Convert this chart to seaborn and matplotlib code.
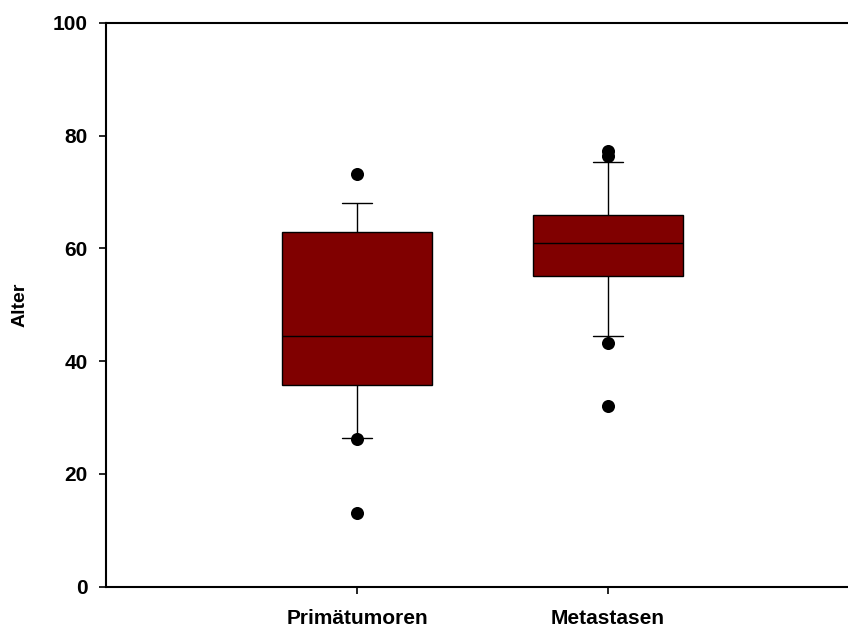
import matplotlib
matplotlib.use("Agg")
import matplotlib.pyplot as plt
import pandas as pd
import seaborn as sns

# Box summary per group (years of age)
groups = ["Primätumoren", "Metastasen"]
whisker_low = [26.3, 44.5]
q1 = [35.8, 55.1]
median = [44.5, 61.0]
q3 = [62.9, 66.0]
whisker_high = [68.1, 75.3]

# Points beyond the whiskers
outlier_groups = ["Primätumoren", "Primätumoren", "Primätumoren",
                  "Metastasen", "Metastasen", "Metastasen", "Metastasen"]
outlier_values = [73.2, 26.2, 13.1, 77.3, 76.4, 43.2, 32.1]

yticks = [0, 20, 40, 60, 80, 100]

sns.set_style("ticks")
plt.rcParams["font.family"] = ["Liberation Sans", "DejaVu Sans"]
plt.rcParams["font.weight"] = "bold"

# Long-form table: five summary values per group give the exact box
rows = []
for i, g in enumerate(groups):
    for v in (whisker_low[i], q1[i], median[i], q3[i], whisker_high[i]):
        rows.append({"Gruppe": g, "Alter": v})
box_df = pd.DataFrame(rows)
out_df = pd.DataFrame({"Gruppe": outlier_groups, "Alter": outlier_values})

fig = plt.figure(figsize=(8.48, 6.30), dpi=100)
ax = fig.add_axes([0.125, 0.0687, 0.888, 0.8948])

line = dict(color="black", linewidth=1.0)
sns.boxplot(data=box_df, x="Gruppe", y="Alter", order=groups, ax=ax,
            whis=(0, 100), showfliers=False, width=0.6,
            color="#800000", saturation=1,
            boxprops=dict(facecolor="#800000", edgecolor="black", linewidth=1.0),
            medianprops=line, whiskerprops=line, capprops=line,
            capwidths=0.12)
sns.stripplot(data=out_df, x="Gruppe", y="Alter", order=groups, ax=ax,
              jitter=False, color="black", size=9.4, linewidth=0, zorder=5)

ax.set_xlim(-1, 2)
ax.set_ylim(0, 100)
ax.set_yticks(yticks)
ax.set_xlabel("")
ax.set_ylabel("Alter", fontsize=14, fontweight="bold", color="black",
              labelpad=17)

for side in ("left", "bottom", "top", "right"):
    ax.spines[side].set_visible(True)
    ax.spines[side].set_linewidth(1.5)
    ax.spines[side].set_color("black")

ax.tick_params(axis="both", direction="out", length=5.3, width=1.2,
               labelsize=15, colors="black")
ax.tick_params(axis="y", pad=8)
ax.tick_params(axis="x", pad=11)
for lab in ax.get_xticklabels() + ax.get_yticklabels():
    lab.set_fontweight("bold")

fig.savefig("out.png", dpi=100, facecolor="white")
